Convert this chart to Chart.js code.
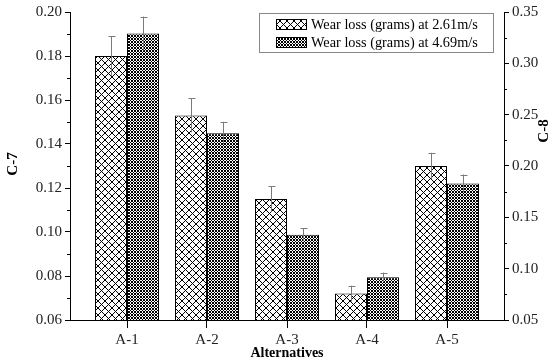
<!DOCTYPE html>
<html>
<head>
<meta charset="utf-8">
<script src="https://cdn.jsdelivr.net/npm/chart.js@4"></script>
<style>
html,body{margin:0;padding:0;background:#fff;}
#wrap{width:550px;height:362px;}
</style>
</head>
<body>
<div id="wrap"><canvas id="c" width="550" height="362"></canvas></div>
<script>
const categories = ['A-1', 'A-2', 'A-3', 'A-4', 'A-5'];
const seriesLabels = ['Wear loss (grams) at 2.61m/s', 'Wear loss (grams) at 4.69m/s'];
const wear261 = [0.180, 0.153, 0.115, 0.072, 0.130];
const wear261Err = [0.009, 0.0077, 0.0058, 0.0036, 0.006];
const wear469 = [0.329, 0.232, 0.133, 0.0916, 0.183];
const wear469Err = [0.0165, 0.011, 0.0064, 0.0046, 0.0087];
const leftTicks = [0.06, 0.08, 0.10, 0.12, 0.14, 0.16, 0.18, 0.20];
const rightTicks = [0.05, 0.10, 0.15, 0.20, 0.25, 0.30, 0.35];
const xTitle = 'Alternatives';
const yTitle = 'C-7';
const y1Title = 'C-8';

function makePattern(size, fn) {
  const c = document.createElement('canvas');
  c.width = size; c.height = size;
  const g = c.getContext('2d');
  g.fillStyle = '#fff'; g.fillRect(0, 0, size, size);
  g.fillStyle = '#000';
  for (let i = 0; i < size; i++) fn(g, i, size);
  return g.createPattern(c, 'repeat');
}
const ctx = document.getElementById('c').getContext('2d');
const patCoarse = makePattern(7, (g, i, s) => { g.fillRect(i, i, 1, 1); g.fillRect(i, s - 1 - i, 1, 1); });
const patFine = makePattern(3, (g, i, s) => { g.fillRect(i, i, 1, 1); g.fillRect(i, s - 1 - i, 1, 1); });

const serif = '"Liberation Serif", "Times New Roman", serif';

const errPlugin = {
  id: 'errs',
  afterDatasetsDraw(chart) {
    const c = chart.ctx;
    const sets = [[wear261Err, 'y'], [wear469Err, 'y1']];
    c.save();
    c.strokeStyle = '#7a7a7a';
    c.lineWidth = 1;
    sets.forEach(([errs, ax], di) => {
      const meta = chart.getDatasetMeta(di);
      const sc = chart.scales[ax];
      const vals = chart.data.datasets[di].data;
      meta.data.forEach((bar, i) => {
        const v = vals[i].y;
        const x = Math.round(bar.x) + 0.5;
        const yt = sc.getPixelForValue(v + errs[i]);
        const yb = sc.getPixelForValue(v - errs[i]);
        c.beginPath();
        c.moveTo(x, yb); c.lineTo(x, yt);
        c.moveTo(x - 3, Math.round(yt) + 0.5); c.lineTo(x + 4, Math.round(yt) + 0.5);
        c.stroke();
      });
    });
    c.restore();
  },
  afterDraw(chart) {
    const c = chart.ctx;
    const ys = chart.scales.y, yr = chart.scales.y1;
    c.save();
    c.strokeStyle = '#000'; c.lineWidth = 1;
    // minor ticks
    for (let k = 0; k < leftTicks.length - 1; k++) {
      const p = Math.round(ys.getPixelForValue((leftTicks[k] + leftTicks[k + 1]) / 2)) + 0.5;
      c.beginPath(); c.moveTo(ys.right - 3, p); c.lineTo(ys.right, p); c.stroke();
    }
    for (let k = 0; k < rightTicks.length - 1; k++) {
      const p = Math.round(yr.getPixelForValue((rightTicks[k] + rightTicks[k + 1]) / 2)) + 0.5;
      c.beginPath(); c.moveTo(yr.left, p); c.lineTo(yr.left + 3, p); c.stroke();
    }
    // titles
    c.fillStyle = '#000';
    c.font = 'bold 14px ' + serif;
    c.textAlign = 'center'; c.textBaseline = 'middle';
    c.fillText(xTitle, 287, 353);
    c.font = 'bold 15px ' + serif;
    c.save(); c.translate(13, 164); c.rotate(-Math.PI / 2); c.fillText(yTitle, 0, 0); c.restore();
    c.save(); c.translate(544, 131); c.rotate(-Math.PI / 2); c.fillText(y1Title, 0, 0); c.restore();
    // legend
    c.strokeStyle = '#888';
    c.strokeRect(259.5, 13.5, 234, 39);
    const pats = [patCoarse, patFine];
    c.font = '14.3px ' + serif;
    c.textAlign = 'left';
    for (let k = 0; k < 2; k++) {
      const y0 = 19 + k * 18;
      c.fillStyle = pats[k];
      c.fillRect(276, y0, 31, 11);
      c.strokeStyle = '#000';
      c.strokeRect(276.5, y0 + 0.5, 30, 10);
      c.fillStyle = '#000';
      c.fillText(chart.data.datasets[k].label, 311, y0 + 6);
    }
    c.restore();
  }
};

const toXY = (arr) => arr.map((v, i) => ({ x: i + 1, y: v }));

new Chart(ctx, {
  type: 'bar',
  data: {
    datasets: [
      { label: seriesLabels[0], data: toXY(wear261), yAxisID: 'y', backgroundColor: patCoarse, borderColor: '#000', borderWidth: 1, borderSkipped: false, categoryPercentage: 0.8, barPercentage: 1.0 },
      { label: seriesLabels[1], data: toXY(wear469), yAxisID: 'y1', backgroundColor: patFine, borderColor: '#000', borderWidth: 1, borderSkipped: false, categoryPercentage: 0.8, barPercentage: 1.0 }
    ]
  },
  options: {
    responsive: false,
    animation: false,
    devicePixelRatio: 1,
    layout: { padding: { top: 11, left: 0, right: 0, bottom: 0 } },
    plugins: { legend: { display: false }, tooltip: { enabled: false } },
    scales: {
      x: {
        type: 'linear', min: 0.2875, max: 5.7125, offset: false,
        afterBuildTicks: (s) => { s.ticks = categories.map((_, i) => ({ value: i + 1 })); },
        afterFit: (s) => { s.height = 42; },
        grid: { offset: false, drawOnChartArea: false, drawTicks: true, tickLength: 8, color: '#000' },
        border: { display: true, color: '#000', width: 1 },
        ticks: { callback: (v) => categories[v - 1], font: { family: serif, size: 15 }, color: '#222', padding: 3, maxRotation: 0, autoSkip: false }
      },
      y: {
        position: 'left', min: 0.06, max: 0.20,
        afterBuildTicks: (s) => { s.ticks = leftTicks.map(v => ({ value: v })); },
        afterFit: (s) => { s.width = 70; },
        grid: { drawOnChartArea: false, drawTicks: true, tickLength: 5, color: '#000' },
        border: { display: true, color: '#000', width: 1 },
        ticks: { callback: (v) => v.toFixed(2), font: { family: serif, size: 15 }, color: '#222', padding: 3 }
      },
      y1: {
        position: 'right', min: 0.05, max: 0.35,
        afterBuildTicks: (s) => { s.ticks = rightTicks.map(v => ({ value: v })); },
        afterFit: (s) => { s.width = 46; },
        grid: { drawOnChartArea: false, drawTicks: true, tickLength: 5, color: '#000' },
        border: { display: true, color: '#000', width: 1 },
        ticks: { callback: (v) => v.toFixed(2), font: { family: serif, size: 15 }, color: '#222', padding: 3 }
      }
    }
  },
  plugins: [errPlugin]
});
</script>
</body>
</html>
